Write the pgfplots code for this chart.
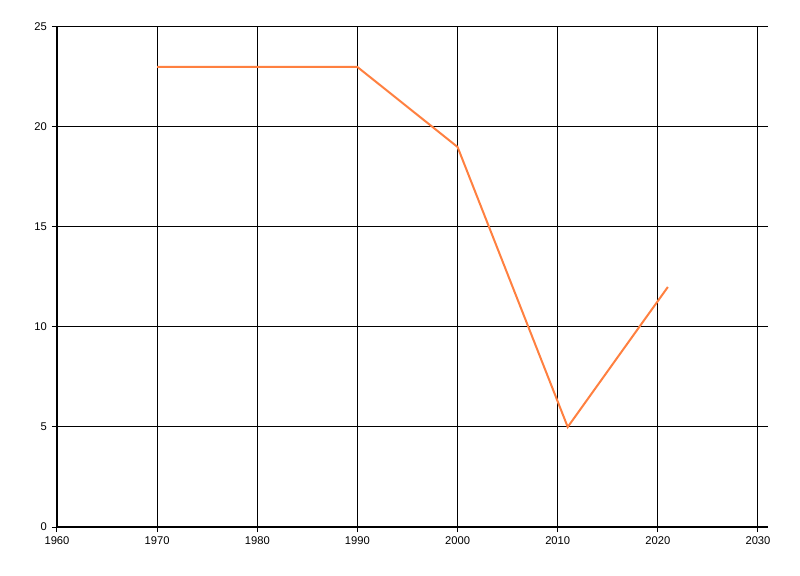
\documentclass[border=0pt]{standalone}
\usepackage{pgfplots}
\pgfplotsset{compat=1.18}
\usepackage{fontspec}
\setmainfont{Liberation Sans}
\definecolor{lineor}{RGB}{255,128,64}
\begin{document}
\begin{tikzpicture}
\begin{axis}[
  scale only axis,
  width=355.5pt, height=250pt,
  xmin=1960, xmax=2031, ymin=0, ymax=25,
  axis x line=bottom, axis y line=left,
  axis line style={-, black, line width=0.6pt},
  xtick={1960,1970,...,2030}, ytick={0,5,...,25},
  grid=major,
  major grid style={black, line width=0.5pt},
  tick align=outside, major tick length=2.5pt,
  tick style={black, line width=0.5pt},
  xticklabel style={/pgf/number format/1000 sep={}},
  /pgf/number format/assume math mode=true,
  ticklabel style={font=\fontsize{5.6}{6.5}\selectfont},
  xticklabel style={yshift=1pt},
  yticklabel style={xshift=1pt},
  clip=false,
]
\addplot[lineor, line width=1pt, mark=none] coordinates {
  (1970,23) (1990,23) (2000,19) (2011,5) (2021,12)
};
\path (rel axis cs:0,0) ++(-28.5pt,-24.5pt) coordinate (bl);
\path (rel axis cs:1,1) ++(16pt,13.5pt) coordinate (tr);
\path[use as bounding box] (bl) rectangle (tr);
\end{axis}
\end{tikzpicture}
\end{document}
